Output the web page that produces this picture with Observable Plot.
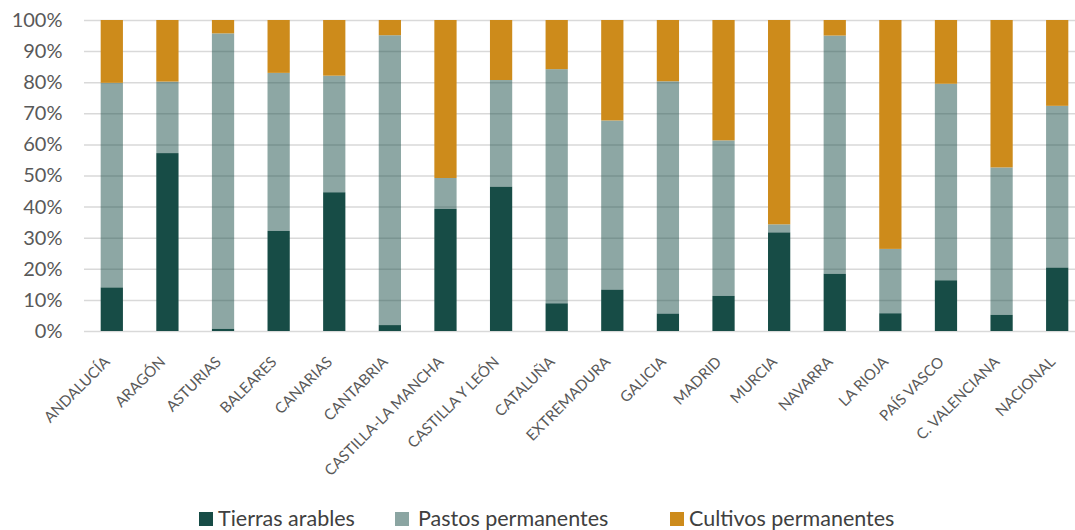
<!DOCTYPE html>
<html>
<head>
<meta charset="utf-8">
<script src="https://cdn.jsdelivr.net/npm/d3@7"></script>
<script src="https://cdn.jsdelivr.net/npm/@observablehq/plot@0.6"></script>
<style>
  html, body { margin: 0; padding: 0; background: #fff; }
  #wrap { position: relative; width: 1075px; height: 530px; font-family: Lato, "Open Sans", sans-serif; }
  .leg { position: absolute; top: 503px; font-size: 21.5px; color: #404040; white-space: nowrap; line-height: 30px; }
  .sw { position: absolute; width: 14px; height: 14px; top: 512px; }
</style>
</head>
<body>
<div id="wrap"></div>
<script>
const regions = ["ANDALUCÍA","ARAGÓN","ASTURIAS","BALEARES","CANARIAS","CANTABRIA","CASTILLA-LA MANCHA","CASTILLA Y LEÓN","CATALUÑA","EXTREMADURA","GALICIA","MADRID","MURCIA","NAVARRA","LA RIOJA","PAÍS VASCO","C. VALENCIANA","NACIONAL"];
const tierras  = [14.0, 57.2, 0.7, 32.2, 44.6, 1.9, 39.3, 46.4, 8.9, 13.3, 5.6, 11.3, 31.7, 18.4, 5.7, 16.3, 5.2, 20.4];
const pastos   = [65.8, 23.0, 95.0, 50.8, 37.5, 93.2, 9.9, 34.3, 75.3, 54.4, 74.7, 50.0, 2.6, 76.6, 20.7, 63.2, 47.4, 52.0];
const cultivos = [20.2, 19.8, 4.3, 17.0, 17.9, 4.9, 50.8, 19.3, 15.8, 32.3, 19.7, 38.7, 65.7, 5.0, 73.6, 20.5, 47.4, 27.6];
const series = ["Tierras arables", "Pastos permanentes", "Cultivos permanentes"];
const colors = ["#174C46", "rgba(23,76,70,0.49)", "#CD8B1B"];
const yTicks = [0, 0.1, 0.2, 0.3, 0.4, 0.5, 0.6, 0.7, 0.8, 0.9, 1.0];

const data = [];
regions.forEach((r, i) => {
  data.push({region: r, serie: series[0], value: tierras[i]});
  data.push({region: r, serie: series[1], value: pastos[i]});
  data.push({region: r, serie: series[2], value: cultivos[i]});
});

const chart = Plot.plot({
  width: 1075,
  height: 500,
  marginLeft: 84,
  marginRight: 0,
  marginTop: 20,
  marginBottom: 169,
  style: {fontFamily: "Lato, 'Open Sans', sans-serif", color: "#595959", background: "white"},
  x: {domain: regions, range: [84, 1085], paddingInner: 0.6, paddingOuter: 0.3, round: false, label: null},
  y: {domain: [0, 1], label: null},
  color: {domain: series, range: colors},
  marks: [
    Plot.ruleY(yTicks, {stroke: "#d9d9d9", strokeWidth: 1.5}),
    Plot.barY(data, Plot.stackY({
      x: "region", y: "value", fill: "serie", z: "serie",
      order: series, offset: "normalize"
    })),
    Plot.axisY(yTicks, {tickFormat: d3.format(".0%"), tickSize: 0, tickPadding: 22, fontSize: 20, fill: "#595959"}),
    Plot.axisX({tickSize: 0, tickRotate: -45, fontSize: 15, fill: "#595959", tickPadding: 28, dx: -5})
  ]
});
const wrap = document.getElementById("wrap");
wrap.appendChild(chart);

const legPos = [[199, 218], [395, 418], [670, 689]];
series.forEach((s, i) => {
  const sw = document.createElement("div");
  sw.className = "sw";
  sw.style.left = legPos[i][0] + "px";
  sw.style.background = colors[i] === colors[1] ? "#8BA5A2" : colors[i];
  wrap.appendChild(sw);
  const t = document.createElement("div");
  t.className = "leg";
  t.style.left = legPos[i][1] + "px";
  t.textContent = s;
  wrap.appendChild(t);
});
</script>
</body>
</html>
